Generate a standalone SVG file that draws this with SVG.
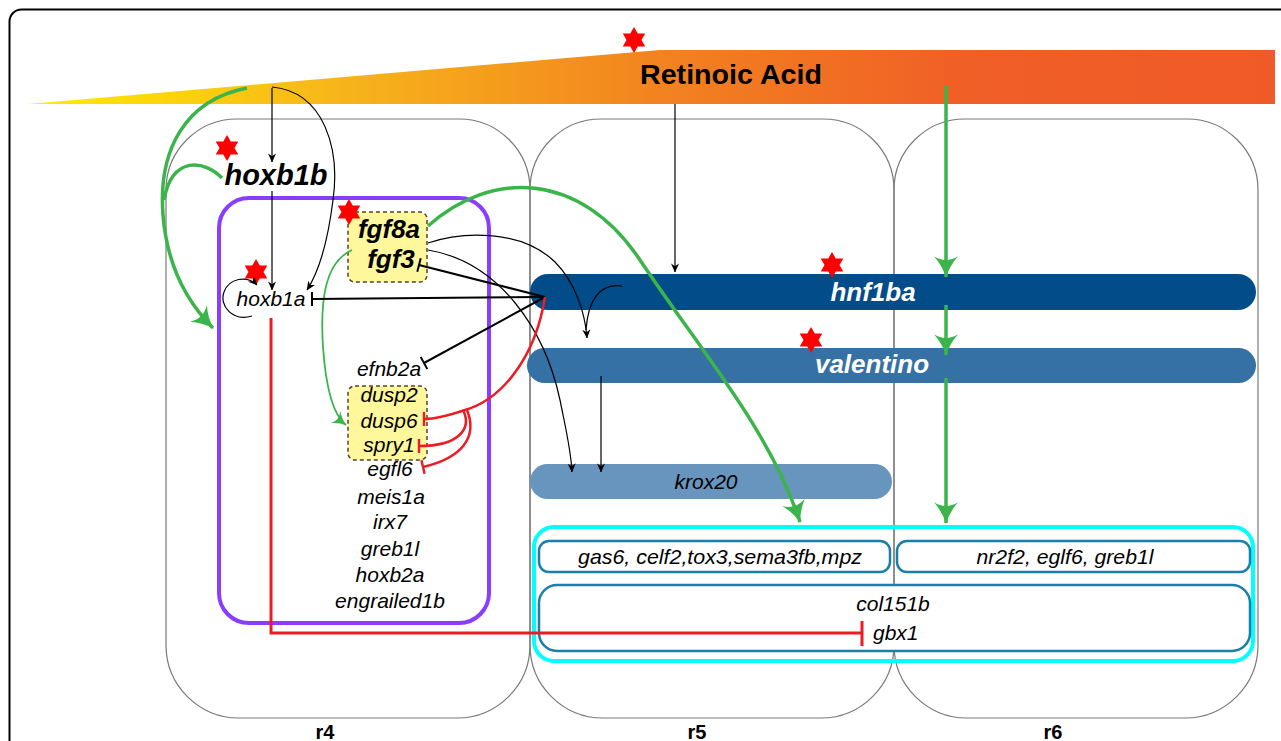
<svg xmlns="http://www.w3.org/2000/svg" xmlns:xlink="http://www.w3.org/1999/xlink" width="1281" height="741" viewBox="0 0 1281 741">
<style>
.col{fill:none;stroke:#7a7a7a;stroke-width:1.2}
.lbl{font-family:"Liberation Sans",Arial,sans-serif;font-weight:bold;font-size:20px;fill:#000;text-anchor:middle}
.gene{font-family:"Liberation Sans",Arial,sans-serif;font-style:italic;font-size:21px;fill:#000;text-anchor:middle}
.bgene{font-family:"Liberation Sans",Arial,sans-serif;font-style:italic;font-weight:bold;font-size:26px;text-anchor:middle}
.ybox{fill:#fff79c;stroke:#5a4128;stroke-width:1.5;stroke-dasharray:4 3}
.ibox{fill:#fff;stroke:#1b80a9;stroke-width:2.5}
.g{fill:none;stroke:#3bb44a;stroke-width:3.5}
.gt{fill:none;stroke:#3bb44a;stroke-width:1.8}
.k{fill:none;stroke:#000;stroke-width:1.2}
.kb{fill:none;stroke:#000;stroke-width:2}
.r{fill:none;stroke:#ed1c24;stroke-width:2.5}
.star{fill:#ff0000}
</style>
<defs>
<linearGradient id="ra" x1="28" y1="0" x2="1275" y2="0" gradientUnits="userSpaceOnUse">
<stop offset="0" stop-color="#ffec00"/>
<stop offset="0.25" stop-color="#f7b51a"/>
<stop offset="0.5" stop-color="#f2841f"/>
<stop offset="0.75" stop-color="#f05f26"/>
<stop offset="1" stop-color="#f05a28"/>
</linearGradient>
<polygon id="star" points="0,-13 3.75,-6.5 11.26,-6.5 7.5,0 11.26,6.5 3.75,6.5 0,13 -3.75,6.5 -11.26,6.5 -7.5,0 -11.26,-6.5 -3.75,-6.5"/>
<marker id="ga" viewBox="0 0 20 22" refX="19" refY="11" markerWidth="22" markerHeight="24" orient="auto" markerUnits="userSpaceOnUse">
<path d="M0,0 Q9,8 20,11 Q9,14 0,22 Q7,11 0,0z" fill="#3bb44a"/>
</marker>
<marker id="gas" viewBox="0 0 20 22" refX="19" refY="11" markerWidth="14" markerHeight="15" orient="auto" markerUnits="userSpaceOnUse">
<path d="M0,0 Q9,8 20,11 Q9,14 0,22 Q7,11 0,0z" fill="#3bb44a"/>
</marker>
<marker id="ka" viewBox="0 0 10 10" refX="9.5" refY="5" markerWidth="9" markerHeight="9" orient="auto" markerUnits="userSpaceOnUse">
<path d="M0,0.5 L10,5 L0,9.5 L3,5z" fill="#000"/>
</marker>
<marker id="kt" viewBox="0 0 4 14" refX="2" refY="7" markerWidth="4" markerHeight="14" orient="auto" markerUnits="userSpaceOnUse">
<rect x="1" y="0" width="2" height="14" fill="#000"/>
</marker>
<marker id="rt" viewBox="0 0 4 14" refX="2" refY="7" markerWidth="4" markerHeight="14" orient="auto" markerUnits="userSpaceOnUse">
<rect x="0.8" y="0" width="2.4" height="14" fill="#ed1c24"/>
</marker>
</defs>
<rect x="0" y="0" width="1281" height="741" fill="#fff"/>
<rect x="9.5" y="9.5" width="1300" height="800" rx="12" fill="none" stroke="#000" stroke-width="2"/>

<g id="retinoic-acid">
<polygon points="28,104 660,50 1275,50 1275,104" fill="url(#ra)"/>
<text x="731" y="84" font-family="'Liberation Sans',Arial,sans-serif" font-weight="bold" font-size="27" text-anchor="middle" fill="#000" textLength="182" lengthAdjust="spacingAndGlyphs">Retinoic Acid</text>
<use xlink:href="#star" href="#star" x="634" y="40" class="star"/>
</g>

<g id="r4">
<path class="col" d="M166,645 V190 A71,71 0 0 1 237,119 H459 A71,71 0 0 1 530,190 V645 A73,73 0 0 1 457,718 H239 A73,73 0 0 1 166,645 Z"/>
<text class="lbl" x="325" y="739">r4</text>
</g>
<g id="r5">
<path class="col" d="M530,645 V190 A71,71 0 0 1 601,119 H823 A71,71 0 0 1 894,190 V645 A73,73 0 0 1 821,718 H603 A73,73 0 0 1 530,645 Z"/>
<text class="lbl" x="697" y="739">r5</text>
</g>
<g id="r6">
<path class="col" d="M894,645 V190 A71,71 0 0 1 965,119 H1187 A71,71 0 0 1 1258,190 V645 A73,73 0 0 1 1185,718 H967 A73,73 0 0 1 894,645 Z"/>
<text class="lbl" x="1053" y="739">r6</text>
</g>

<g id="r4-network">
<rect x="219" y="198" width="270" height="425" rx="30" fill="none" stroke="#8b3dff" stroke-width="4"/>
</g>

<g id="hoxb1b">
<text class="bgene" x="276" y="185" style="font-size:29px;fill:#000">hoxb1b</text>
<use xlink:href="#star" href="#star" x="227" y="148" class="star"/>
</g>

<g id="fgf">
<rect class="ybox" x="348" y="212" width="79" height="70" rx="7"/>
<text class="bgene" x="389" y="238" fill="#000">fgf8a</text>
<text class="bgene" x="391" y="268" fill="#000">fgf3</text>
<use xlink:href="#star" href="#star" x="349" y="212" class="star"/>
</g>

<g id="hoxb1a">
<text class="gene" x="271" y="306">hoxb1a</text>
<use xlink:href="#star" href="#star" x="256" y="272" class="star"/>
</g>

<g id="efnb2a"><text class="gene" x="389" y="376">efnb2a</text></g>

<g id="dusp">
<rect class="ybox" x="348" y="386" width="79" height="74" rx="7"/>
<text class="gene" x="389" y="402">dusp2</text>
<text class="gene" x="389" y="428">dusp6</text>
<text class="gene" x="389" y="452">spry1</text>
</g>

<g id="r4-genes">
<text class="gene" x="390" y="476">egfl6</text>
<text class="gene" x="391" y="504">meis1a</text>
<text class="gene" x="390" y="529">irx7</text>
<text class="gene" x="390" y="556">greb1l</text>
<text class="gene" x="390" y="582">hoxb2a</text>
<text class="gene" x="390" y="608">engrailed1b</text>
</g>

<g id="hnf1ba">
<rect x="530" y="274" width="726" height="36" rx="18" fill="#014c89"/>
<text class="bgene" x="873" y="301" fill="#fff">hnf1ba</text>
<use xlink:href="#star" href="#star" x="832" y="265" class="star"/>
</g>

<g id="valentino">
<rect x="527" y="348" width="729" height="35" rx="17.5" fill="#3571a4"/>
<text class="bgene" x="872" y="373" fill="#fff">valentino</text>
<use xlink:href="#star" href="#star" x="811" y="340" class="star"/>
</g>

<g id="krox20">
<rect x="530" y="464" width="362" height="35" rx="17.5" fill="#6795be"/>
<text class="gene" x="706" y="489">krox20</text>
</g>

<g id="r5r6-targets">
<rect x="534" y="527" width="719" height="134" rx="20" fill="none" stroke="#00ffff" stroke-width="4"/>
<rect class="ibox" x="539" y="541" width="351" height="31" rx="10"/>
<text class="gene" x="720" y="564" textLength="284" lengthAdjust="spacingAndGlyphs">gas6, celf2,tox3,sema3fb,mpz</text>
<rect class="ibox" x="897" y="541" width="353" height="31" rx="10"/>
<text class="gene" x="1065" y="564" textLength="177" lengthAdjust="spacingAndGlyphs">nr2f2, eglf6, greb1l</text>
<rect class="ibox" x="539" y="585" width="711" height="66" rx="18"/>
<text class="gene" x="893" y="611">col151b</text>
<text class="gene" x="873" y="640" style="text-anchor:start">gbx1</text>
</g>

<g id="connectors">
<path class="g" d="M247,88 C185,100 158,150 163,215 C167,265 185,300 213,328" marker-end="url(#ga)"/>
<path class="g" d="M222,178 C205,160 172,155 164,200"/>
<path class="g" d="M428,226 C490,170 580,170 640,260 C700,350 770,430 800,522" marker-end="url(#ga)"/>
<path class="gt" d="M352,250 C325,262 320,300 323,347 C326,390 333,415 346,425" marker-end="url(#gas)"/>
<path class="g" d="M946,86 V277" marker-end="url(#ga)"/>
<path class="g" d="M946,305 V355" marker-end="url(#ga)"/>
<path class="g" d="M946,378 V523" marker-end="url(#ga)"/>
<path class="k" d="M272,88 V162" marker-end="url(#ka)"/>
<path class="k" d="M272,191 V290" marker-end="url(#ka)"/>
<path class="k" d="M272,87 C325,92 340,150 333,200 C328,240 320,270 307,290" marker-end="url(#ka)"/>
<path class="k" d="M252,316 C232,322 219,305 224,292 C229,278 247,275 257,285" marker-end="url(#ka)"/>
<path class="k" d="M675,104 V272" marker-end="url(#ka)"/>
<path class="k" d="M601,376 V472" marker-end="url(#ka)"/>
<path class="k" d="M428,243 C460,232 520,228 555,262 C575,282 585,312 587,338" marker-end="url(#ka)"/>
<path class="k" d="M622,286 C600,283 588,300 586,330"/>
<path class="k" d="M428,250 C500,262 545,330 560,400 C566,430 571,450 572,472" marker-end="url(#ka)"/>
<path class="kb" d="M545,297 L419,265" marker-end="url(#kt)"/>
<path class="kb" d="M545,297 L312,299" marker-end="url(#kt)"/>
<path class="kb" d="M545,297 L424,363" marker-end="url(#kt)"/>
<path class="r" d="M545,297 C535,360 500,400 465,410 C450,415 437,419 424,419" marker-end="url(#rt)"/>
<path class="r" d="M463,410 C472,428 460,446 419,446" marker-end="url(#rt)"/>
<path class="r" d="M467,410 C478,437 462,458 423,467" marker-end="url(#rt)"/>
<path d="M271,318 V633 H862" fill="none" stroke="#ed1c24" stroke-width="3"/>
<path d="M862,621 V646" fill="none" stroke="#ed1c24" stroke-width="3"/>
</g>
</svg>
